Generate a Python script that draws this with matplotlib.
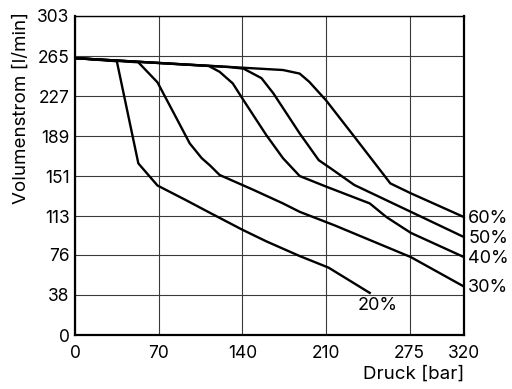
import numpy as np
import matplotlib
matplotlib.use('Agg')
import matplotlib.pyplot as plt

plt.rcParams['font.family'] = ['Inter', 'DejaVu Sans']

# x grid in the original diagram is not to scale (320 sits closer to 275)
x_ticks = [0, 70, 140, 210, 275, 320]
x_tick_pos = [0, 1, 2, 3, 4, 4.65]
y_ticks = [0, 38, 76, 113, 151, 189, 227, 265, 303]

# Druck [bar] / Volumenstrom [l/min] per setting
p_20 = [0, 35, 53, 69, 93, 113, 140, 160, 188, 212, 244]
q_20 = [263, 260, 163, 142, 128, 116, 100, 89, 75, 64, 40]

p_30 = [0, 53, 69, 83, 96, 106, 113, 121, 149, 174, 188, 217, 276, 320]
q_30 = [263, 259, 240, 210, 182, 168, 161, 152, 138, 125, 117, 104, 74, 46]

p_40 = [0, 112, 121, 132, 141, 160, 174, 188, 210, 244, 257, 276, 320]
q_40 = [263, 255.5, 250, 239, 223, 190, 168, 151, 141, 125, 112, 97, 74]

p_50 = [0, 129, 141, 156, 166, 188, 204, 214, 232, 276, 320]
q_50 = [263, 254.5, 253, 244, 229.5, 191.5, 166, 158, 142.5, 117, 93]

p_60 = [0, 174, 188, 196, 210, 231, 255, 260, 276, 320]
q_60 = [263, 251.7, 248.3, 240.5, 223, 190, 152, 144, 134.6, 112]

curves = [('20%', p_20, q_20), ('30%', p_30, q_30), ('40%', p_40, q_40),
          ('50%', p_50, q_50), ('60%', p_60, q_60)]

fig = plt.figure(figsize=(5.12, 3.89), dpi=100)
ax = fig.add_axes([75 / 512, 1 - 335 / 389, (464 - 75) / 512, (335 - 16) / 389])

ax.set_xscale('function', functions=(lambda x: np.interp(x, x_ticks, x_tick_pos),
                                     lambda p: np.interp(p, x_tick_pos, x_ticks)))
ax.set_xlim(0, 320)
ax.set_ylim(0, 303)
ax.set_xticks(x_ticks)
ax.set_xticklabels([str(t) for t in x_ticks])
ax.set_yticks(y_ticks)
ax.set_yticklabels([str(t) for t in y_ticks])
ax.minorticks_off()

ax.grid(True, color='#3a3a3a', lw=0.8)
ax.set_axisbelow(True)

for name, p, q in curves:
    ax.plot(p, q, color='black', lw=1.7, solid_joinstyle='round')
    if name == '20%':
        ax.annotate(name, xy=(p[-1], q[-1]), xytext=(6, -9), textcoords='offset points',
                    ha='center', va='center', fontsize=13, annotation_clip=False)
    else:
        ax.annotate(name, xy=(p[-1], q[-1]), xytext=(3, -1), textcoords='offset points',
                    ha='left', va='center', fontsize=13, annotation_clip=False)

for side in ['left', 'bottom', 'right']:
    ax.spines[side].set_linewidth(1.6)
ax.spines['top'].set_linewidth(1.0)

ax.tick_params(axis='both', length=0, labelsize=12.5)
ax.tick_params(axis='x', pad=7)
ax.tick_params(axis='y', pad=4)

ax.set_xlabel('Druck [bar]', loc='right', labelpad=3, fontsize=13.5)
ax.set_ylabel('Volumenstrom [l/min]', loc='top', labelpad=5, fontsize=13.5)
ax.yaxis.label.set_y(1.012)

fig.savefig('out.png', dpi=100)
